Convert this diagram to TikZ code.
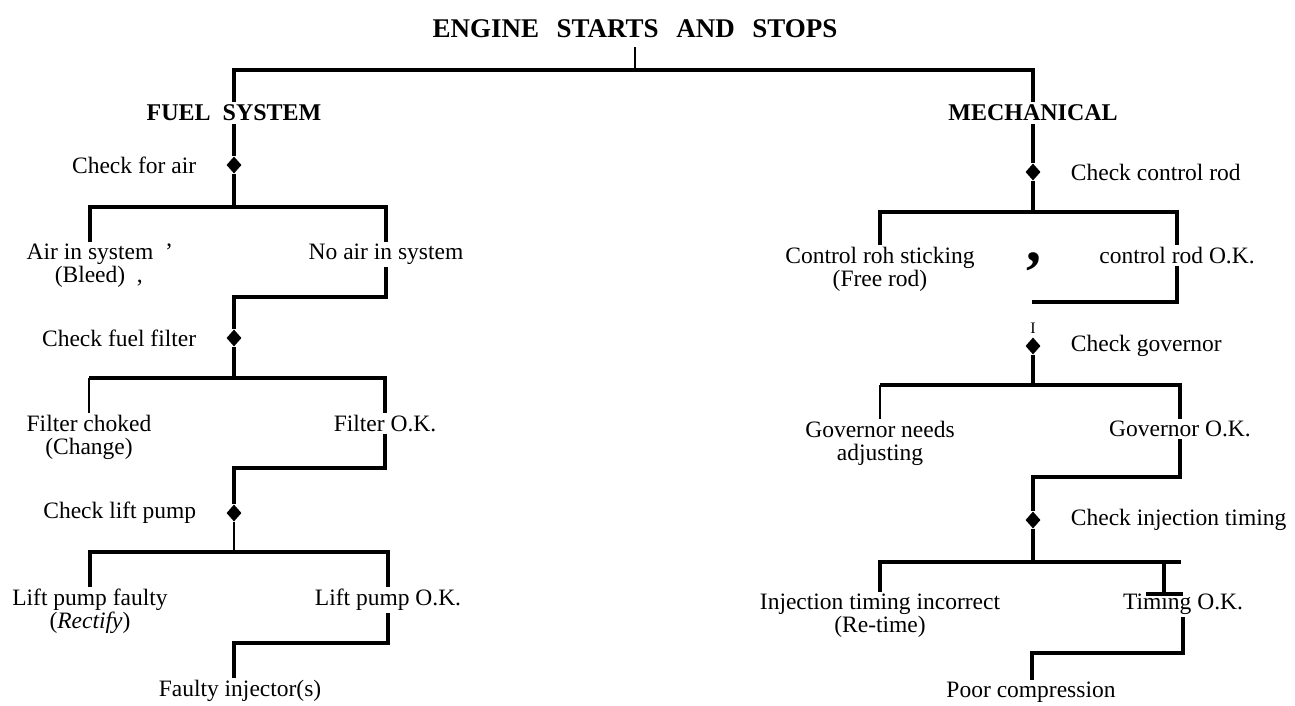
\documentclass[tikz,border=0pt]{standalone}
\usepackage{fontspec}
\setmainfont{Liberation Serif}
\usepackage{tikz}
\usetikzlibrary{positioning, shapes.geometric}

\newcommand{\widespace}[1]{\spaceskip=#1\relax}

\begin{document}
\begin{tikzpicture}[
  x=1pt, y=-1pt,
  node distance=28pt,
  txt/.style={align=center, inner sep=2pt, font=\fontsize{23.5}{22.5}\selectfont},
  head/.style={inner sep=3pt, font=\fontsize{24}{26}\selectfont\bfseries\widespace{.5em}},
  check/.style={diamond, fill=black, draw=none, inner sep=0pt, minimum width=15pt, minimum height=17pt},
  bar/.style={line width=3.5pt},
  thinbar/.style={line width=1.5pt},
]
\useasboundingbox (0,0) rectangle (1295,705);

% top of the tree
\node[inner sep=2pt, inner ysep=9pt, font=\fontsize{27}{30}\selectfont\bfseries\widespace{.65em}] (title) at (635,29) {ENGINE STARTS AND STOPS};
\coordinate (root) at (635,70);
\node[head] (fuel) at (234,113) {FUEL SYSTEM};
\node[head] (mech) at (1033,113) {MECHANICAL};
\draw[thinbar] (title) -- (root);
\draw[bar] (fuel.north) -- (fuel.north |- root) -- (mech.north |- root) -- (mech.north);

% fuel system
\node[check] (d1) at (234,165) {};
\node[txt, left=of d1] (l1) {Check for air};
\coordinate (s1) at (234,207);
\node[txt, anchor=north] (air) at (90,242) {Air in system\rlap{\enspace’}\\(Bleed)\rlap{\enspace,}};
\node[txt, anchor=north] (noair) at (386,242) {No air in system};
\draw[bar] (fuel) -- (d1) -- (s1);
\draw[bar] (air.north) -- (air.north |- s1) -- (noair.north |- s1) -- (noair.north);

\coordinate (c1) at (234,297);
\node[check] (d2) at (234,338) {};
\node[txt, left=of d2] (l2) {Check fuel filter};
\coordinate (s2) at (234,378);
\node[txt, anchor=north] (choked) at (89,413) {Filter choked\\(Change)};
\node[txt, anchor=north] (filterok) at (385,413) {Filter O.K.};
\draw[bar] (noair.south) -- (noair.south |- c1) -- (c1) -- (d2) -- (s2);
\draw[thinbar] (choked.north) -- (choked.north |- s2);
\draw[bar] (choked.north |- s2) -- (filterok.north |- s2) -- (filterok.north);

\coordinate (c2) at (234,468);
\node[check] (d3) at (234,513) {};
\node[txt, left=of d3] (l3) {Check lift pump};
\coordinate (s3) at (234,552);
\node[txt, anchor=north] (faulty) at (90,587) {Lift pump faulty\\(\textit{Rectify})};
\node[txt, anchor=north] (liftok) at (388,587) {Lift pump O.K.};
\draw[bar] (filterok.south) -- (filterok.south |- c2) -- (c2) -- (d3);
\draw[thinbar] (d3) -- (s3);
\draw[bar] (faulty.north) -- (faulty.north |- s3) -- (liftok.north |- s3) -- (liftok.north);

\coordinate (c3) at (234,643);
\node[txt, anchor=north] (injector) at (240,678) {Faulty injector(s)};
\draw[bar] (liftok.south) -- (liftok.south |- c3) -- (c3) -- (c3 |- injector.north);

% mechanical
\node[check] (e1) at (1033,172) {};
\node[txt, right=of e1] (r1) {Check control rod};
\coordinate (t1) at (1033,212);
\node[txt, anchor=north] (sticking) at (880,245) {Control roh sticking\\(Free rod)};
\node[txt, anchor=north] (rodok) at (1177,245) {control rod O.K.};
\node[inner sep=0pt, font=\fontsize{60}{60}\selectfont\bfseries] (mark1) at (1034,262) {,};
\draw[bar] (mech) -- (e1) -- (t1);
\draw[bar] (sticking.north) -- (sticking.north |- t1) -- (rodok.north |- t1) -- (rodok.north);

\coordinate (u1) at (1032,302);
\draw[bar] (rodok.south) -- (rodok.south |- u1) -- (u1);
\node[inner sep=0pt, font=\fontsize{16}{16}\selectfont] (mark2) at (1033,328) {I};
\node[check] (e2) at (1033,346) {};
\node[txt, right=of e2] (r2) {Check governor};
\coordinate (t2) at (1033,385);
\node[txt, anchor=north] (govneeds) at (880,419) {Governor needs\\adjusting};
\node[txt, anchor=north] (govok) at (1180,419) {Governor O.K.};
\draw[bar] (e2) -- (t2);
\draw[thinbar] (govneeds.north) -- (govneeds.north |- t2);
\draw[bar] (govneeds.north |- t2) -- (govok.north |- t2) -- (govok.north);

\coordinate (u2) at (1033,477);
\node[check] (e3) at (1033,520) {};
\node[txt, right=of e3] (r3) {Check injection timing};
\coordinate (t3) at (1033,562);
\coordinate (t3end) at (1181,562);
\draw[bar] (govok.south) -- (govok.south |- u2) -- (u2) -- (e3) -- (t3);
\node[txt, anchor=north] (incorrect) at (880,592) {Injection timing incorrect\\(Re-time)};
\node[txt, anchor=north] (timingok) at (1183,592) {Timing O.K.};
\draw[bar] (incorrect.north) -- (incorrect.north |- t3) -- (t3end);
\coordinate (tee) at (1164,562);
\coordinate (teeleft) at (1146,594);
\coordinate (teeright) at (1183,594);
\draw[bar] (tee) -- (tee |- teeleft);
\draw[bar] (teeleft) -- (teeright);

\coordinate (u3) at (1032,653);
\node[txt, anchor=north] (poor) at (1031,680) {Poor compression};
\draw[bar] (timingok.south) -- (timingok.south |- u3) -- (u3) -- (u3 |- poor.north);
\end{tikzpicture}
\end{document}
